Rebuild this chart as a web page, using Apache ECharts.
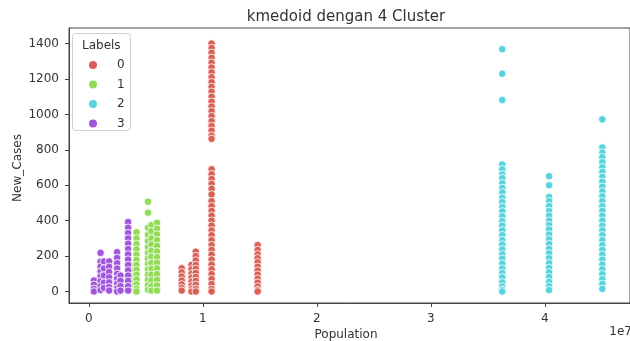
<!DOCTYPE html>
<html>
<head>
    <meta charset="utf-8">
    <title>kmedoid</title>
    <script src="https://fastly.jsdelivr.net/npm/echarts@6/dist/echarts.min.js"></script>
</head>
<body style="margin:0">
    <div id="main" style="width:630px;height:341px;"></div>
    <script type="text/javascript">
// labels of the 4 clusters and the seaborn hls colours
var labels = ['0', '1', '2', '3'];
var colors = ['#db5f57', '#91db57', '#57d3db', '#a157db'];

// each cluster: population of every column + the New_Cases values in that column
var pop0 = [8140000, 9000000, 9370000, 10760000, 14800000];
var cases0 = [
  [131, 108, 85, 62, 40, 20, 5],
  [150, 125, 100, 78, 55, 32, 12, 0],
  [225, 200, 175, 150, 128, 105, 82, 60, 38, 15, 0],
  [1400, 1375, 1348, 1320, 1292, 1265, 1238, 1210, 1182, 1155, 1128, 1100, 1072, 1045, 1018, 990, 962, 935, 908, 880, 862,
   690, 662, 635, 608, 580, 548, 510, 482, 455, 428, 400, 372, 345, 318, 290, 262, 235, 208, 180, 152, 125, 98, 70, 42, 15, 0],
  [262, 235, 210, 188, 165, 140, 118, 95, 72, 50, 28, 8, 0]
];

var pop1 = [3580000, 4170000, 5180000, 5480000, 5970000];
var cases1 = [
  [150, 120, 90, 60, 35, 10],
  [334, 300, 268, 238, 208, 178, 150, 122, 95, 68, 40, 15, 0],
  [507, 445, 360, 320, 285, 250, 218, 185, 155, 125, 95, 65, 35, 10],
  [375, 340, 300, 265, 230, 195, 160, 128, 95, 62, 30, 5],
  [388, 355, 322, 290, 258, 226, 194, 162, 130, 98, 66, 34, 5]
];

var pop2 = [36260000, 40370000, 45040000];
var cases2 = [
  [1368, 1230, 1081, 717, 690, 662, 640, 612, 585, 560, 530, 505, 478, 452, 425, 398, 372, 345, 318, 290, 265, 238, 210, 185, 158, 130, 105, 80, 52, 28, 10, 0],
  [651, 600, 534, 510, 482, 455, 428, 400, 375, 350, 322, 295, 268, 240, 215, 188, 160, 133, 108, 82, 55, 30, 8],
  [972, 813, 785, 758, 730, 702, 675, 648, 620, 592, 565, 538, 510, 482, 455, 428, 400, 372, 345, 318, 290, 262, 235, 208, 180, 152, 125, 98, 70, 42, 15]
];

var pop3 = [440000, 1020000, 1310000, 1770000, 2470000, 2770000, 3440000];
var cases3 = [
  [62, 38, 15, 0],
  [218, 168, 140, 112, 85, 58, 30, 8],
  [170, 130, 90, 50, 20],
  [170, 140, 110, 80, 52, 25, 5],
  [222, 190, 160, 130, 100, 72, 45, 18, 0],
  [90, 60, 30, 5],
  [392, 360, 330, 300, 270, 240, 210, 180, 150, 120, 90, 60, 30, 5]
];

var xTicks = [0, 10000000, 20000000, 30000000, 40000000];
var yTicks = [0, 200, 400, 600, 800, 1000, 1200, 1400];

function points(pops, cases) {
  var out = [];
  pops.forEach(function (p, i) {
    cases[i].forEach(function (c) { out.push([p, c]); });
  });
  return out;
}

var allPops = [pop0, pop1, pop2, pop3];
var allCases = [cases0, cases1, cases2, cases3];

var font = 'DejaVu Sans';
var myChart = echarts.init(document.getElementById('main'));

var option = {
  animation: false,
  backgroundColor: '#fff',
  textStyle: { fontFamily: font },
  grid: {
    left: 69, top: 28, width: 563, height: 275,
    show: true, borderColor: '#444', borderWidth: 1
  },
  xAxis: {
    type: 'value',
    min: -1748000, max: 47465000,
    splitLine: { show: false },
    axisLine: { show: true, onZero: false, lineStyle: { color: '#444' } },
    axisTick: { show: true, length: 4, customValues: xTicks, lineStyle: { color: '#444' } },
    axisLabel: {
      customValues: xTicks, margin: 10, color: '#333', fontSize: 12, fontFamily: font,
      formatter: function (v) { return String(Math.round(v / 1e7)); }
    }
  },
  yAxis: {
    type: 'value',
    min: -65, max: 1488,
    splitLine: { show: false },
    axisLine: { show: true, onZero: false, lineStyle: { color: '#444' } },
    axisTick: { show: true, length: 4, customValues: yTicks, lineStyle: { color: '#444' } },
    axisLabel: {
      customValues: yTicks, margin: 10, color: '#333', fontSize: 12, fontFamily: font,
      formatter: function (v) { return String(v); }
    }
  },
  legend: {
    orient: 'vertical',
    left: 87, top: 59,
    padding: 0,
    itemWidth: 10, itemHeight: 10, itemGap: 7.5,
    icon: 'circle',
    data: labels,
    textStyle: { color: '#333', fontSize: 12, fontFamily: font, padding: [0, 0, 0, 14] },
    z: 10
  },
  graphic: [
    {
      type: 'rect', left: 72, top: 33, z: 5,
      shape: { width: 58, height: 97, r: 3 },
      style: { fill: 'rgba(255,255,255,0.85)', stroke: '#d0d0d0', lineWidth: 1 }
    },
    {
      type: 'text', left: 82, top: 40, z: 11,
      style: { text: 'Labels', fill: '#333', fontSize: 12, fontFamily: font }
    },
    {
      type: 'text', x: 346, y: 17,
      style: { text: 'kmedoid dengan 4 Cluster', fill: '#333', fontSize: 15, fontFamily: font, textAlign: 'center', textVerticalAlign: 'middle' }
    },
    {
      type: 'text', x: 346, y: 335,
      style: { text: 'Population', fill: '#333', fontSize: 12, fontFamily: font, textAlign: 'center', textVerticalAlign: 'middle' }
    },
    {
      type: 'text', x: 632, y: 332,
      style: { text: '1e7', fill: '#333', fontSize: 12, fontFamily: font, textAlign: 'right', textVerticalAlign: 'middle' }
    },
    {
      type: 'text', x: 18, y: 168, rotation: Math.PI / 2,
      style: { text: 'New_Cases', fill: '#333', fontSize: 12, fontFamily: font, textAlign: 'center', textVerticalAlign: 'middle' }
    }
  ],
  series: labels.map(function (name, i) {
    return {
      name: name,
      type: 'scatter',
      symbol: 'circle',
      symbolSize: 7.5,
      itemStyle: { color: colors[i], borderColor: '#fff', borderWidth: 0.8, opacity: 1 },
      data: points(allPops[i], allCases[i])
    };
  })
};

myChart.setOption(option);
    </script>
</body>
</html>
